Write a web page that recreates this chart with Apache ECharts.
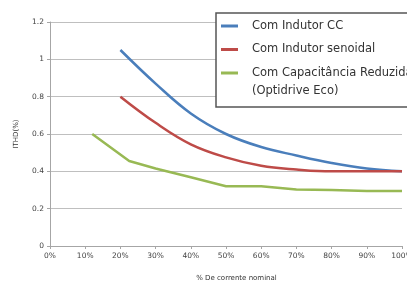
<!DOCTYPE html>
<html><head><meta charset="utf-8">
<script src="https://cdn.jsdelivr.net/npm/echarts@6/dist/echarts.min.js"></script>
<style>html,body{margin:0;padding:0;background:#fff}#c{width:407px;height:285px}</style>
</head><body><div id="c"></div>
<script>
const seriesNames = ['Com Indutor CC', 'Com Indutor senoidal', 'Com Capacitância Reduzida'];
const legendExtraLine = '(Optidrive Eco)';
const xTicks = [0,10,20,30,40,50,60,70,80,90,100];
const yTicks = [0,0.2,0.4,0.6,0.8,1,1.2];
const blueX = [20,30,40,50,60,70,80,90,100];
const blueY = [1.05,0.87,0.71,0.60,0.53,0.485,0.445,0.415,0.40];
const redX = [20,30,40,50,60,70,80,90,100];
const redY = [0.80,0.66,0.545,0.475,0.43,0.41,0.40,0.40,0.40];
const greenX = [12,22.5,30,40,50,60,70,80,90,100];
const greenY = [0.60,0.455,0.415,0.368,0.32,0.32,0.303,0.30,0.295,0.295];
const colors = ['#4a7ebb','#be4b48','#98b954'];
const FONT = 'DejaVu Sans';
const zip = (xs, ys) => xs.map((x,i)=>[x, ys[i]]);

const chart = echarts.init(document.getElementById('c'), null, {renderer:'canvas'});
chart.setOption({
  animation:false,
  color: colors,
  textStyle:{fontFamily:FONT},
  grid:{left:50, right:5, top:22, bottom:39, containLabel:false, outerBoundsMode:'none'},
  legend:{
    orient:'vertical', left:216, top:13,
    padding:[7,30,28,5],
    itemGap:11.5, itemWidth:17, itemHeight:14,
    icon:'path://M0,0h17v3h-17z',
    backgroundColor:'#fff', borderColor:'#555', borderWidth:1.5, borderRadius:0,
    textStyle:{fontFamily:FONT, fontSize:11.5, color:'#333', padding:[0,0,0,9]},
    data: seriesNames
  },
  graphic:[{
    type:'text', left:252, top:85, z:100,
    style:{text:legendExtraLine, font:'11.5px "DejaVu Sans"', fill:'#333'}
  }],
  xAxis:{
    type:'value', min:0, max:100, interval:10,
    name:'% De corrente nominal', nameLocation:'middle', nameGap:29,
    nameTextStyle:{fontFamily:FONT, fontSize:7, color:'#333', padding:[0,0,0,21]},
    axisLine:{show:true, lineStyle:{color:'#a6a6a6', width:1}},
    axisTick:{show:true, length:3, lineStyle:{color:'#a6a6a6'}},
    axisLabel:{fontFamily:FONT, fontSize:7.5, color:'#444', margin:6, formatter:'{value}%'},
    splitLine:{show:false}
  },
  yAxis:{
    type:'value', min:0, max:1.2, interval:0.2,
    name:'ITHD(%)', nameLocation:'middle', nameGap:30, nameRotate:90,
    nameTextStyle:{fontFamily:FONT, fontSize:7, color:'#333'},
    axisLine:{show:true, lineStyle:{color:'#a6a6a6', width:1}},
    axisTick:{show:true, length:3, lineStyle:{color:'#a6a6a6'}},
    axisLabel:{fontFamily:FONT, fontSize:7.5, color:'#444', margin:6},
    splitLine:{show:true, lineStyle:{color:'#bfbfbf', width:1}}
  },
  series:[
    {name:seriesNames[0], type:'line', data:zip(blueX,blueY), smooth:0.4, showSymbol:false, lineStyle:{width:2.5, color:colors[0]}},
    {name:seriesNames[1], type:'line', data:zip(redX,redY), smooth:0.4, showSymbol:false, lineStyle:{width:2.5, color:colors[1]}},
    {name:seriesNames[2], type:'line', data:zip(greenX,greenY), smooth:false, showSymbol:false, lineStyle:{width:2.5, color:colors[2]}}
  ]
});
</script></body></html>
